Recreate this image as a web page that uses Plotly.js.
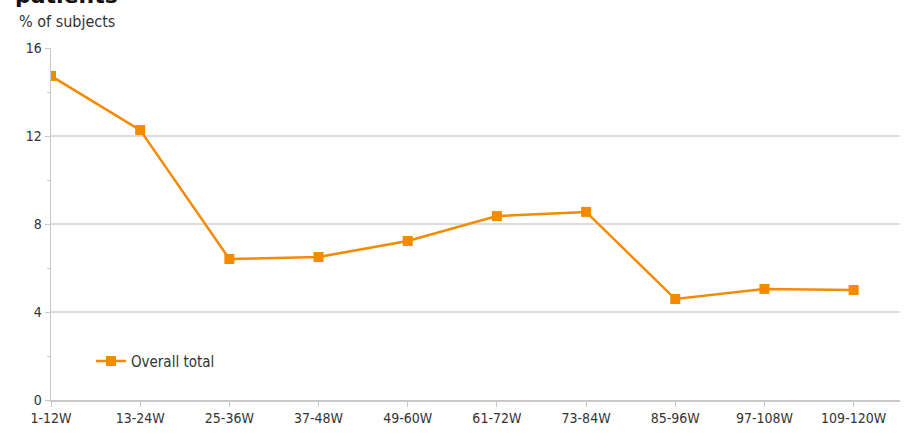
<!DOCTYPE html>
<html>
<head>
<meta charset="utf-8">
<script src="https://cdn.plot.ly/plotly-3.0.1.min.js"></script>
<style>
  body { margin: 0; padding: 0; background: #fff; }
  #root { width: 906px; height: 434px; }
</style>
</head>
<body>
<div id="root"></div>
<script>
// periodi (settimane) e percentuale di soggetti
const periods = ["1-12W", "13-24W", "25-36W", "37-48W", "49-60W", "61-72W", "73-84W", "85-96W", "97-108W", "109-120W"];
const overallTotal = [14.73, 12.27, 6.41, 6.5, 7.23, 8.36, 8.55, 4.59, 5.05, 5.0];
const yTicks = [0, 4, 8, 12, 16];

const font = "DejaVu Sans Condensed, Tahoma, sans-serif";
const orange = "#f48a00";

var xs = [];
for (let i = 0; i < periods.length; i++) {
    xs.push(i);
}

var trace1 = {
    x: xs,
    y: overallTotal,
    mode: 'lines+markers',
    type: 'scatter',
    name: 'Overall total',
    line: { color: orange, width: 2.5 },
    marker: { color: orange, size: 10, symbol: 'square' }
};

var layout = {
    width: 906,
    height: 434,
    margin: { l: 51, r: 6, t: 48, b: 34 },
    paper_bgcolor: '#fff',
    plot_bgcolor: '#fff',
    font: { family: font, size: 14, color: '#333' },
    showlegend: true,
    legend: {
        x: 0.047, y: 0.11, xanchor: 'left', yanchor: 'middle',
        font: { family: font, size: 15, color: '#333' },
        bgcolor: 'rgba(0,0,0,0)'
    },
    xaxis: {
        range: [0, 9.52],
        tickvals: xs,
        ticktext: periods,
        showgrid: false,
        zeroline: false,
        showline: true,
        linecolor: '#c8c8c8',
        linewidth: 1.5,
        ticks: 'outside',
        ticklen: 5,
        tickcolor: '#c8c8c8',
        tickfont: { family: font, size: 14, color: '#333' },
        fixedrange: true
    },
    yaxis: {
        range: [0, 16],
        tickvals: yTicks,
        showgrid: true,
        gridcolor: '#dcdcdc',
        gridwidth: 1.5,
        zeroline: false,
        showline: true,
        linecolor: '#c8c8c8',
        linewidth: 1.5,
        ticks: 'outside',
        ticklen: 5,
        tickcolor: '#c8c8c8',
        tickfont: { family: font, size: 14, color: '#333' },
        minor: { dtick: 2, tick0: 0, ticks: 'outside', ticklen: 3, tickcolor: '#c8c8c8', showgrid: false },
        fixedrange: true
    },
    annotations: [
        {
            text: '% of subjects', xref: 'paper', yref: 'paper',
            x: -0.04, y: 1.075, xanchor: 'left', yanchor: 'middle',
            showarrow: false, font: { family: font, size: 16, color: '#333' }
        },
        {
            // titolo tagliato in alto, come nell'originale
            text: '<b>patients</b>', xref: 'paper', yref: 'paper',
            x: -0.045, y: 1.108, xanchor: 'left', yanchor: 'bottom',
            showarrow: false, font: { family: 'DejaVu Sans, sans-serif', size: 22, color: '#111' }
        }
    ]
};

Plotly.newPlot('root', [trace1], layout, { displayModeBar: false, staticPlot: true });
</script>
</body>
</html>
